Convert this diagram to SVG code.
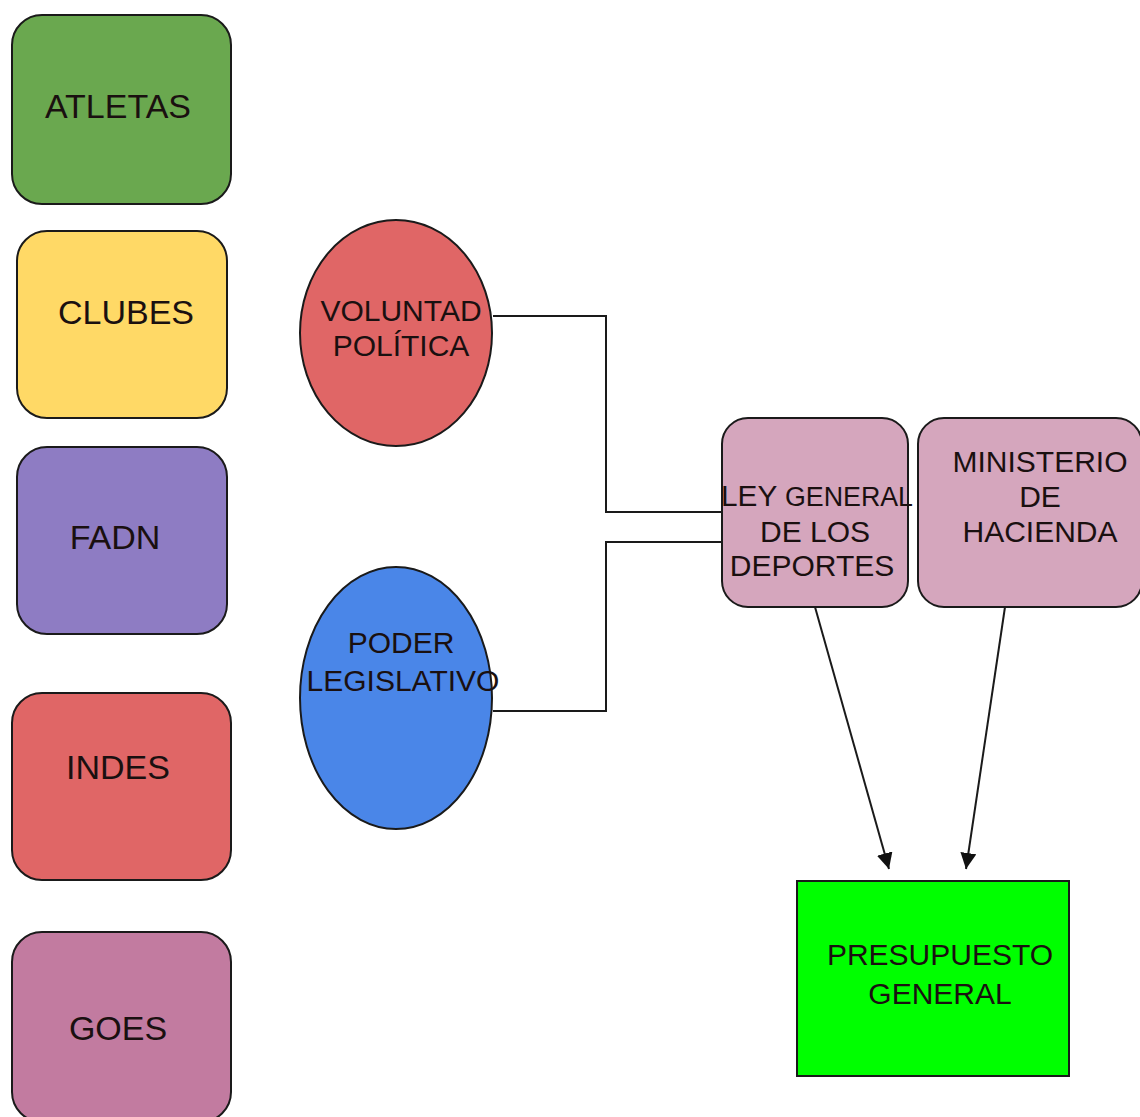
<svg xmlns="http://www.w3.org/2000/svg" width="1140" height="1117" viewBox="0 0 1140 1117">
<style>
.n{stroke:#1a1a1a;stroke-width:2}
.t{font-family:"Liberation Sans",Arial,sans-serif;fill:#1a1010;text-anchor:middle}
.c{fill:none;stroke:#1a1a1a;stroke-width:2}
</style>
<defs>
<marker id="ah" viewBox="0 0 10 10" refX="10" refY="5" markerWidth="8" markerHeight="8" orient="auto" markerUnits="strokeWidth">
<path d="M0,0L10,5L0,10z" fill="#111"/>
</marker>
</defs>
<rect width="1140" height="1117" fill="#fff"/>
<g id="connectors">
<polyline class="c" points="493,316 606,316 606,512 722,512"/>
<polyline class="c" points="493,711 606,711 606,542 722,542"/>
<line class="c" x1="815" y1="607" x2="889" y2="869" marker-end="url(#ah)"/>
<line class="c" x1="1005" y1="607" x2="966" y2="869" marker-end="url(#ah)"/>
</g>
<g id="atletas"><rect class="n" x="12" y="15" width="219" height="189" rx="30" fill="#6aa84f"/><text class="t" x="118" y="118" font-size="34">ATLETAS</text></g>
<g id="clubes"><rect class="n" x="17" y="231" width="210" height="187" rx="30" fill="#ffd966"/><text class="t" x="126" y="324" font-size="34">CLUBES</text></g>
<g id="fadn"><rect class="n" x="17" y="447" width="210" height="187" rx="30" fill="#8e7cc3"/><text class="t" x="115" y="549" font-size="34">FADN</text></g>
<g id="indes"><rect class="n" x="12" y="693" width="219" height="187" rx="30" fill="#e06666"/><text class="t" x="118" y="779" font-size="34">INDES</text></g>
<g id="goes"><rect class="n" x="12" y="932" width="219" height="190" rx="30" fill="#c27ba0"/><text class="t" x="118" y="1040" font-size="34">GOES</text></g>
<g id="voluntad"><ellipse class="n" cx="396" cy="333" rx="96" ry="113" fill="#e06666"/><text class="t" font-size="30"><tspan x="401" y="321">VOLUNTAD</tspan><tspan x="401" y="356">POLÍTICA</tspan></text></g>
<g id="poder"><ellipse class="n" cx="396" cy="698" rx="96" ry="131" fill="#4a86e8"/><text class="t" font-size="30"><tspan x="401" y="653">PODER</tspan><tspan x="403" y="691">LEGISLATIVO</tspan></text></g>
<g id="ley"><rect class="n" x="722" y="418" width="186" height="189" rx="26" fill="#d5a6bd"/><text class="t" y="506"><tspan x="817" font-size="30" textLength="192" lengthAdjust="spacingAndGlyphs">LEY <tspan font-size="27">GENERAL</tspan></tspan></text><text class="t" font-size="30"><tspan x="815" y="542">DE LOS</tspan><tspan x="812" y="576">DEPORTES</tspan></text></g>
<g id="ministerio"><rect class="n" x="918" y="418" width="224" height="189" rx="26" fill="#d5a6bd"/><text class="t" font-size="30"><tspan x="1040" y="472">MINISTERIO</tspan><tspan x="1040" y="507">DE</tspan><tspan x="1040" y="542">HACIENDA</tspan></text></g>
<g id="presupuesto"><rect class="n" x="797" y="881" width="272" height="195" fill="#00ff00"/><text class="t" font-size="30"><tspan x="940" y="965">PRESUPUESTO</tspan><tspan x="940" y="1004">GENERAL</tspan></text></g>
</svg>
